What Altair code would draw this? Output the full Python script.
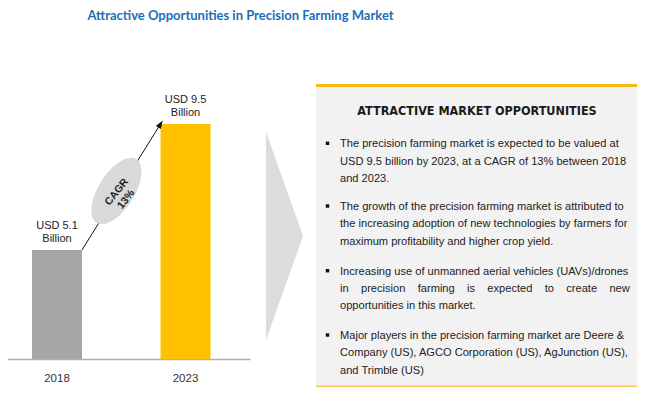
import altair as alt
import pandas as pd

# ---- data ----
years = ["2018", "2023"]
values = [5.1, 9.5]
bar_colors = ["#a6a6a6", "#ffc000"]
title_text = "Attractive Opportunities in Precision Farming Market"
cagr_text = ["CAGR", "13%"]
box_title = "ATTRACTIVE MARKET OPPORTUNITIES"
NB = "\u00a0\u00a0\u00a0 "
bullets = [
    ["The precision farming market is expected to be valued at",
     "USD 9.5 billion by 2023, at a CAGR of 13% between 2018",
     "and 2023."],
    ["The growth of the precision farming market is attributed to",
     "the increasing adoption of new technologies by farmers for",
     "maximum profitability and higher crop yield."],
    ["Increasing use of unmanned aerial vehicles (UAVs)/drones",
     NB.join(["in", "precision", "farming", "is", "expected", "to", "create", "new"]),
     "opportunities in this market."],
    ["Major players in the precision farming market are Deere &",
     "Company (US), AGCO Corporation (US), AgJunction (US),",
     "and Trimble (US)"],
]

W, H = 634, 351
Y_MIN, Y_MAX = 1.294, 13.55

bars = pd.DataFrame({
    "year": years,
    "value": values,
    "color": bar_colors,
    "label": [f"USD {v}\nBillion" for v in values],
})
arrow = pd.DataFrame({"y0": [years[0]], "v0": [values[0]],
                      "y1": [years[1]], "v1": [values[1]]})

xscale = alt.Scale(domain=years, range=[-8, 242], paddingInner=0.611,
                   paddingOuter=0.278, align=0.4476)
yscale = alt.Scale(domain=[Y_MIN, Y_MAX], zero=False, nice=False)

bar_layer = alt.Chart(bars).mark_bar().encode(
    x=alt.X("year:N", scale=xscale, title=None,
            axis=alt.Axis(labelAngle=0, ticks=False, domainColor="#b0b0b0",
                          domainWidth=1.5, labelPadding=13, labelFontSize=11.5,
                          labelColor="#333333", labelFont="Liberation Sans",
                          grid=False)),
    y=alt.Y("value:Q", scale=yscale, axis=None),
    y2=alt.datum(Y_MIN),
    color=alt.Color("color:N", scale=None),
)

label_layer = alt.Chart(bars).mark_text(
    baseline="bottom", align="center", dy=-19, lineBreak="\n", lineHeight=13,
    fontSize=11, font="Liberation Sans", color="#222222"
).encode(
    x=alt.X("year:N", scale=xscale),
    y=alt.Y("value:Q", scale=yscale),
    text="label:N",
)

arrow_line = alt.Chart(arrow).mark_rule(color="#111111", strokeWidth=1).encode(
    x=alt.X("y0:N", scale=xscale, bandPosition=1),
    y=alt.Y("v0:Q", scale=yscale),
    x2=alt.X2("y1:N", bandPosition=0),
    y2=alt.Y2("v1:Q"),
)
arrow_head = alt.Chart(arrow).mark_point(
    shape="M 0 -1 L 0.7 1 L -0.7 1 Z", filled=True, color="#111111",
    opacity=1, size=70, angle=32, strokeWidth=0, dx=-1, dy=2
).encode(
    x=alt.X("y1:N", scale=xscale, bandPosition=0),
    y=alt.Y("v1:Q", scale=yscale),
)

ellipse = alt.Chart(pd.DataFrame({"t": [1]})).mark_point(
    shape="M 0 -1 A 0.48 1 0 1 1 0 1 A 0.48 1 0 1 1 0 -1 Z",
    filled=True, color="#d9d9d9", opacity=1, size=75 * 75, angle=32,
    strokeWidth=0
).encode(x=alt.value(108.5), y=alt.value(183))

cagr = alt.Chart(pd.DataFrame({"t": ["\n".join(cagr_text)]})).mark_text(
    align="center", baseline="middle", lineBreak="\n", lineHeight=12,
    fontSize=10.5, fontWeight="bold", font="Liberation Sans",
    color="#222222", angle=308
).encode(x=alt.value(108.7), y=alt.value(184), text="t:N")

title = alt.Chart(pd.DataFrame({"t": [title_text]})).mark_text(
    align="center", baseline="top", fontSize=13, fontWeight="bold",
    font="Lato, Liberation Sans", color="#1b6fb8"
).encode(x=alt.value(232.5), y=alt.value(1.5), text="t:N")

triangle = alt.Chart(pd.DataFrame({"t": [1]})).mark_point(
    shape="M -0.178 -1 L 0.178 0 L -0.178 1 Z", filled=True,
    color="#dcdcdc", opacity=1, size=208 * 208, strokeWidth=0
).encode(x=alt.value(276.5), y=alt.value(228))

box = alt.Chart(pd.DataFrame({"t": [1]})).mark_rect(color="#f2f2f2").encode(
    x=alt.value(308), x2=alt.value(629), y=alt.value(77), y2=alt.value(378))
top_line = alt.Chart(pd.DataFrame({"t": [1]})).mark_rule(
    color="#f5b914", strokeWidth=3).encode(
    x=alt.value(308), x2=alt.value(629), y=alt.value(77.5))
bottom_line = alt.Chart(pd.DataFrame({"t": [1]})).mark_rule(
    color="#f7c658", strokeWidth=2).encode(
    x=alt.value(308), x2=alt.value(629), y=alt.value(378.5))

box_head = alt.Chart(pd.DataFrame({"t": [box_title]})).mark_text(
    align="center", baseline="middle", fontSize=12.5, fontWeight="bold",
    font="DejaVu Sans Condensed, Liberation Sans", color="#1a1a1a"
).encode(x=alt.value(469), y=alt.value(103), text="t:N")

bullet_y = [139.3, 202, 266.7, 331]
text_layers = []
for lines, yb in zip(bullets, bullet_y):
    text_layers.append(
        alt.Chart(pd.DataFrame({"t": ["\n".join(lines)]})).mark_text(
            align="left", baseline="alphabetic", lineBreak="\n",
            lineHeight=17.4, fontSize=11.1, font="Liberation Sans",
            color="#222222"
        ).encode(x=alt.value(332), y=alt.value(yb), text="t:N")
    )
    text_layers.append(
        alt.Chart(pd.DataFrame({"t": [1]})).mark_square(
            size=12, color="#111111", opacity=1, filled=True
        ).encode(x=alt.value(319.5), y=alt.value(yb - 4))
    )

chart = alt.layer(
    triangle, box, top_line, bottom_line, bar_layer, arrow_line, ellipse,
    arrow_head, cagr, label_layer, title, box_head, *text_layers
).properties(
    width=W, height=H, padding={"left": 0, "top": 0, "right": 0, "bottom": 28},
    autosize="none", background="white"
).configure_view(stroke=None)

chart.save("out.html", embed_options={"renderer": "svg", "actions": False})
